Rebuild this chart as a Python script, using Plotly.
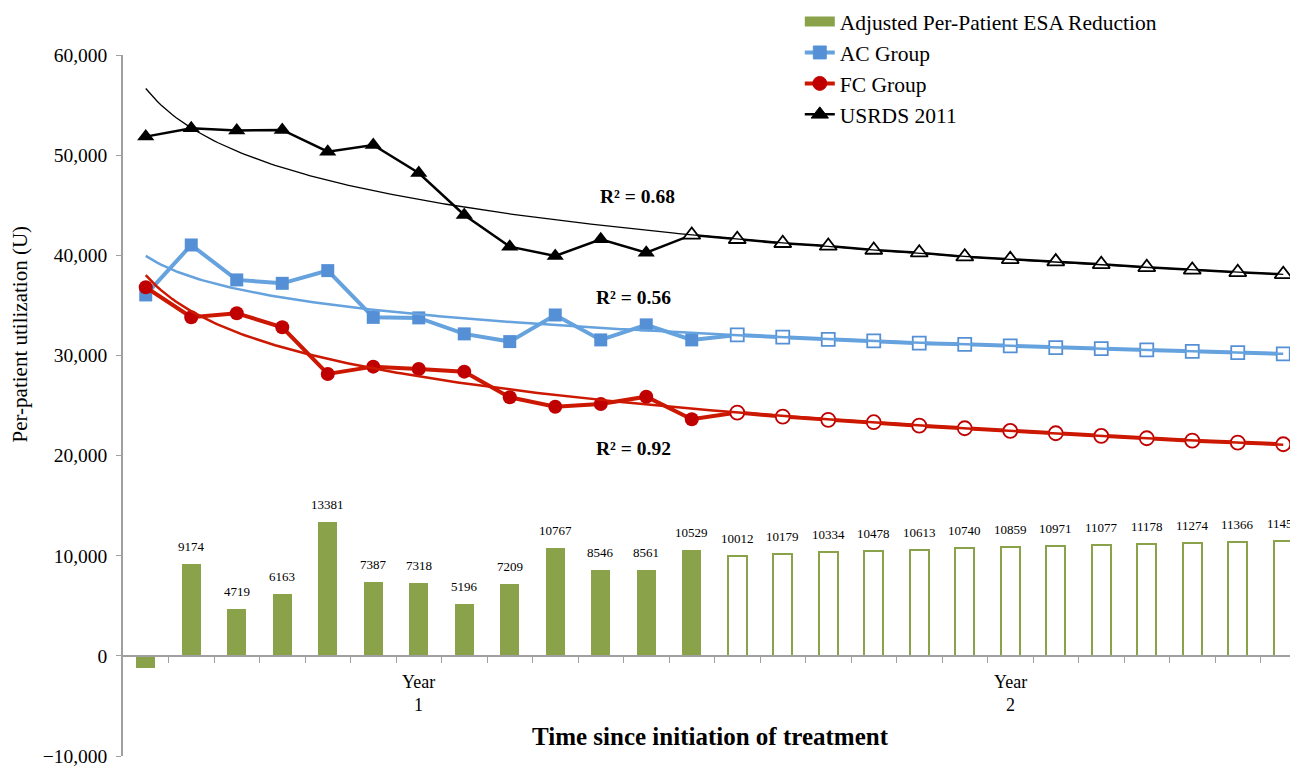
import numpy as np
import plotly.graph_objects as go

# ---------------- data ----------------
n_cat = 26
year_labels = ["Year<br>1", "Year<br>2"]
esa_reduction = [-1250, 9174, 4719, 6163, 13381, 7387, 7318, 5196, 7209, 10767, 8546, 8561, 10529,
                 10012, 10179, 10334, 10478, 10613, 10740, 10859, 10971, 11077, 11178, 11274, 11366, 11453]
ac_group = [36040, 41030, 37540, 37200, 38470, 33800, 33750, 32150, 31380, 34040, 31550, 33050, 31550,
            32050, 31820, 31610, 31450, 31220, 31110, 30950, 30780, 30680, 30550, 30410, 30280, 30150]
fc_group = [36810, 33810, 34210, 32810, 28150, 28880, 28650, 28380, 25820, 24880, 25150, 25880, 23630,
            24290, 23890, 23560, 23330, 22990, 22730, 22460, 22230, 21960, 21730, 21490, 21290, 21130]
usrds_2011 = [51850, 52690, 52450, 52520, 50350, 51020, 48220, 44030, 40860, 39930, 41600, 40260, 42030,
              41600, 41200, 40930, 40530, 40260, 39860, 39600, 39370, 39100, 38800, 38540, 38300, 38100]
n_actual_bars = 13
n_actual_ac = 13
n_actual_fc = 13
n_actual_usrds = 12
r2_labels = ["R² = 0.68", "R² = 0.56", "R² = 0.92"]

# ---------------- style ----------------
FONT = "Liberation Serif"
GREEN = "#8aa34b"
BLUE_M = "#5590d6"
BLUE_L = "#65a2de"
RED_M = "#c00000"
RED_L = "#cc1800"
BLACK = "#000000"
GRAY = "#a0a0a0"

x = list(range(n_cat))
fig = go.Figure()

# bars
fig.add_trace(go.Bar(
    x=x, y=esa_reduction, width=0.42, showlegend=False,
    marker=dict(color=[GREEN if i < n_actual_bars else "white" for i in x],
                line=dict(color=GREEN, width=[0 if i < n_actual_bars else 2 for i in x])),
    hoverinfo="skip"))
# legend proxy for bars
fig.add_trace(go.Scatter(x=[None], y=[None], mode="lines", name="Adjusted Per-Patient ESA Reduction",
                         line=dict(color=GREEN, width=12)))


def series(vals, n_act, name, lcol, mcol, symbol, lw, ms):
    fig.add_trace(go.Scatter(
        x=x, y=vals, mode="lines+markers", name=name,
        line=dict(color=lcol, width=lw),
        marker=dict(symbol=symbol, size=ms,
                    color=[mcol if i < n_act else "white" for i in x],
                    line=dict(color=mcol, width=[0 if i < n_act else 1.8 for i in x]))))


series(ac_group, n_actual_ac, "AC Group", BLUE_L, BLUE_M, "square", 4, 13)
series(fc_group, n_actual_fc, "FC Group", RED_L, RED_M, "circle", 4, 14)
series(usrds_2011, n_actual_usrds, "USRDS 2011", BLACK, BLACK, "triangle-up", 2.5, 15)

# logarithmic trendlines fitted to each series
xs = np.linspace(0, n_cat - 1, 300)
for vals, col, w in [(usrds_2011, BLACK, 1.3), (ac_group, BLUE_L, 2.5), (fc_group, RED_L, 2.5)]:
    b, a = np.polyfit(np.log(np.arange(1, n_cat + 1)), vals, 1)
    fig.add_trace(go.Scatter(x=xs, y=a + b * np.log(xs + 1), mode="lines", showlegend=False,
                             line=dict(color=col, width=w), hoverinfo="skip"))

# bar value labels
for i, v in enumerate(esa_reduction):
    if v > 0:
        fig.add_annotation(x=i, y=v, text=str(v), showarrow=False, yanchor="bottom", yshift=8,
                           font=dict(family=FONT, size=13, color="black"))

# R² labels
for txt, xx, yy in zip(r2_labels, [10.81, 10.72, 10.72], [45900, 35750, 20750]):
    fig.add_annotation(x=xx, y=yy, text="<b>" + txt + "</b>", showarrow=False,
                       font=dict(family=FONT, size=19.5, color="black"))

# year labels
for lab, xc in zip(year_labels, [6, 19]):
    fig.add_annotation(x=xc, xref="x", y=0.056, yref="paper", text=lab, showarrow=False,
                       xanchor="center", yanchor="bottom",
                       font=dict(family=FONT, size=18, color="black"))

# axis titles
fig.add_annotation(x=0.5004, y=0.006, xref="paper", yref="paper", xanchor="center", yanchor="bottom",
                   text="<b>Time since initiation of treatment</b>", showarrow=False,
                   font=dict(family=FONT, size=25, color="black"))
fig.add_annotation(x=-0.0877, y=0.6027, xref="paper", yref="paper", textangle=-90,
                   xanchor="center", yanchor="middle",
                   text="Per-patient utilization (U)", showarrow=False,
                   font=dict(family=FONT, size=21, color="black"))

fig.update_layout(
    width=1290, height=758,
    margin=dict(l=115, r=0, t=47, b=10, autoexpand=False),
    paper_bgcolor="white", plot_bgcolor="white",
    font=dict(family=FONT, color="black"),
    bargap=0,
    xaxis=dict(range=[-0.5, -0.5 + 1175 / 45.5], tickvals=[i + 0.5 for i in range(n_cat - 1)],
               ticktext=[""] * (n_cat - 1), ticks="outside", ticklen=6, tickcolor=GRAY,
               showline=True, linecolor=GRAY, linewidth=1.5, showgrid=False, zeroline=False,
               anchor="free", position=1 / 7),
    yaxis=dict(range=[-10000, 60000], tickvals=list(range(-10000, 60001, 10000)), tickformat=",",
               ticks="outside", ticklen=5, tickcolor=GRAY, showline=True, linecolor=GRAY,
               linewidth=1.5, showgrid=False, zeroline=False, ticklabelstandoff=5,
               ticklabeloverflow="allow",
               tickfont=dict(family=FONT, size=19.5, color="black")),
    legend=dict(xref="paper", yref="paper", x=0.576, y=1.077, xanchor="left",
                yanchor="top", font=dict(family=FONT, size=21.5, color="black"),
                bgcolor="rgba(0,0,0,0)", tracegroupgap=0),
)

fig.write_html("out.html")
